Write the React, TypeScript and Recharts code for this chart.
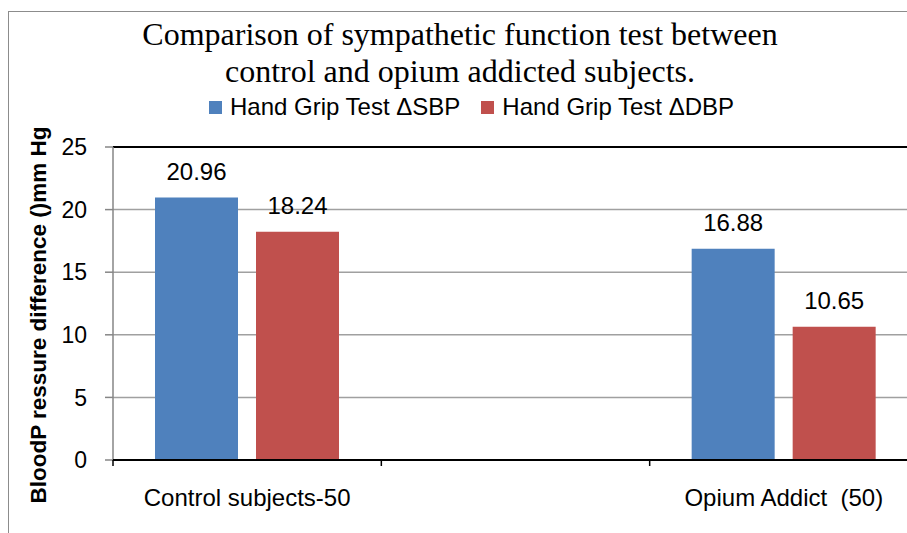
import React from 'react';
import { BarChart, Bar, XAxis, YAxis, CartesianGrid, Legend, LabelList, ReferenceLine } from 'recharts';

const categories = ['Control subjects-50', '', 'Opium Addict  (50)'];
const sbpValues: (number | null)[] = [20.96, null, 16.88];
const dbpValues: (number | null)[] = [18.24, null, 10.65];
const yTicks = [0, 5, 10, 15, 20, 25];
const seriesNames = ['Hand Grip Test ΔSBP', 'Hand Grip Test ΔDBP'];
const titleLines = ['Comparison of sympathetic function test between', 'control and opium addicted subjects.'];
const yLabel = 'BloodP ressure difference ()mm Hg';

const data = categories.map((name, i) => ({ name, sbp: sbpValues[i], dbp: dbpValues[i] }));
// category boundaries expressed on the index axis [0, n-1]
const n = categories.length;
const edgeTicks = Array.from({ length: n + 1 }, (_, i) => (i * (n - 1)) / n);

const SANS = "'Liberation Sans', Arial, sans-serif";
const SERIF = "'Liberation Serif', 'Times New Roman', serif";

const renderLegend = (props: any) => {
  const payload = [...(props.payload || [])].sort(
    (a: any, b: any) => seriesNames.indexOf(a.value) - seriesNames.indexOf(b.value)
  );
  return (
    <div style={{ display: 'flex', gap: 21, fontFamily: SANS, fontSize: 24, lineHeight: '24px', color: '#000', whiteSpace: 'nowrap' }}>
      {payload.map((p: any, i: number) => (
        <div key={i} style={{ display: 'flex', alignItems: 'center' }}>
          <span style={{ display: 'inline-block', width: 13, height: 13, background: p.color, marginRight: 8 }} />
          <span>{p.value}</span>
        </div>
      ))}
    </div>
  );
};

const XTick = (props: any) => {
  const { x, y, payload } = props;
  return (
    <text x={x} y={y} textAnchor="middle" dominantBaseline="hanging" fontFamily={SANS} fontSize={24} fill="#000" style={{ whiteSpace: 'pre' }}>
      {payload.value}
    </text>
  );
};

export default function App() {
  return (
    <div style={{ position: 'absolute', left: 0, top: 0, width: 907, height: 533, overflow: 'hidden', background: '#fff' }}>
      <div style={{ position: 'absolute', left: 8, top: 11, width: 1000, height: 1000, border: '1px solid #8c8c8c' }} />
      <div style={{ position: 'absolute', left: 0, top: 0 }}>
        <BarChart
          width={930}
          height={533}
          data={data}
          margin={{ top: 147, right: 12, bottom: 71, left: 0 }}
          barCategoryGap={42}
          barGap={18}
        >
          <CartesianGrid horizontal vertical={false} stroke="#a0a0a0" strokeWidth={1.5} />
          <YAxis
            type="number"
            domain={[0, 25]}
            ticks={yTicks}
            width={113}
            axisLine={{ stroke: '#868686', strokeWidth: 1.5 }}
            tickLine={{ stroke: '#868686', strokeWidth: 1.5 }}
            tickSize={8}
            tickMargin={18}
            tick={{ fontFamily: SANS, fontSize: 23, fill: '#000' }}
            interval={0}
          />
          <XAxis
            xAxisId={0}
            type="number"
            domain={[0, n - 1]}
            allowDataOverflow
            ticks={edgeTicks}
            tickFormatter={() => ''}
            axisLine={{ stroke: '#000', strokeWidth: 2 }}
            tickLine={{ stroke: '#000', strokeWidth: 1.5 }}
            tickSize={6}
            height={1}
            interval={0}
          />
          <XAxis
            xAxisId="cat"
            dataKey="name"
            type="category"
            height={1}
            axisLine={false}
            tickLine={false}
            tickSize={8}
            tickMargin={19}
            tick={<XTick />}
            interval={0}
          />
          <ReferenceLine y={25} stroke="#000" strokeWidth={2} />
          <Legend
            verticalAlign="middle"
            align="center"
            layout="horizontal"
            content={renderLegend}
            wrapperStyle={{ top: 95, left: 209, width: 'auto' }}
          />
          <Bar xAxisId="cat" dataKey="sbp" name={seriesNames[0]} fill="#4F81BD" isAnimationActive={false}>
            <LabelList dataKey="sbp" position="top" offset={18} fontFamily={SANS} fontSize={24} fill="#000" />
          </Bar>
          <Bar xAxisId="cat" dataKey="dbp" name={seriesNames[1]} fill="#C0504D" isAnimationActive={false}>
            <LabelList dataKey="dbp" position="top" offset={18} fontFamily={SANS} fontSize={24} fill="#000" />
          </Bar>
        </BarChart>
      </div>
      <svg width={907} height={533} style={{ position: 'absolute', left: 0, top: 0, pointerEvents: 'none' }}>
        <text x={460} y={45} textAnchor="middle" fontFamily={SERIF} fontSize={32} fill="#000">{titleLines[0]}</text>
        <text x={460} y={82} textAnchor="middle" fontFamily={SERIF} fontSize={32} fill="#000">{titleLines[1]}</text>
        <text x={38} y={315} transform="rotate(-90, 38, 315)" textAnchor="middle" dominantBaseline="central" fontFamily={SANS} fontWeight="bold" fontSize={22.5} fill="#000">{yLabel}</text>
      </svg>
    </div>
  );
}
